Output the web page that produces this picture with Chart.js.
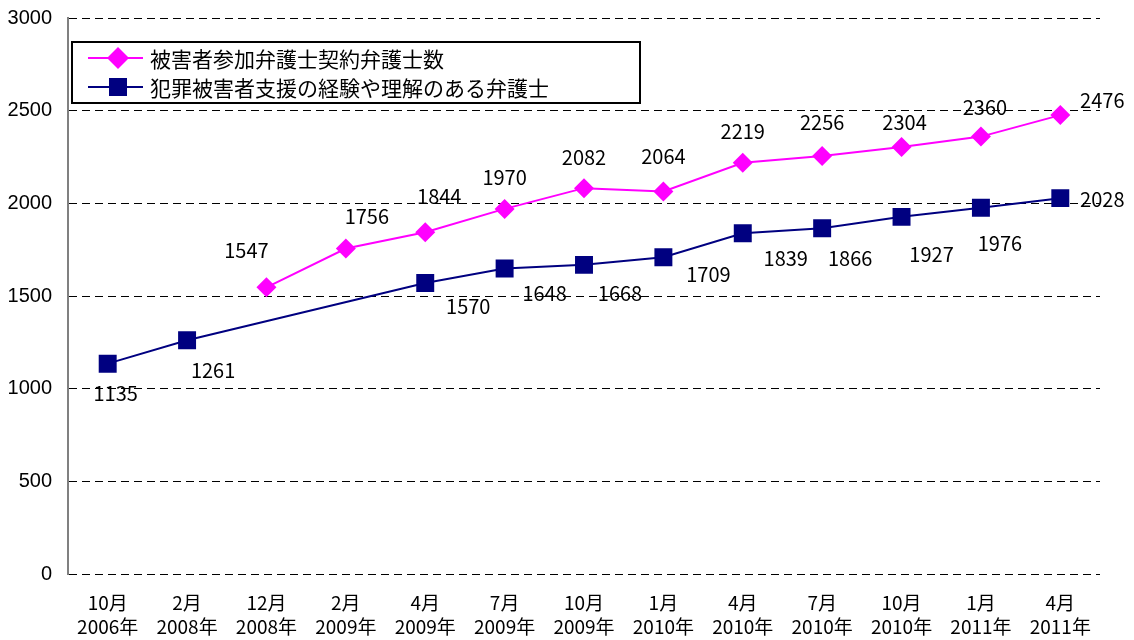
<!DOCTYPE html>
<html>
<head>
<meta charset="utf-8">
<script src="https://cdn.jsdelivr.net/npm/chart.js@4/dist/chart.umd.min.js"></script>
<style>
  html, body { margin: 0; padding: 0; background: #fff; }
  #wrap { width: 1134px; height: 640px; }
</style>
</head>
<body>
<div id="wrap"><canvas id="c" width="1134" height="640"></canvas></div>
<script>
// categories (month / year)
const months = ['10月', '2月', '12月', '2月', '4月', '7月', '10月', '1月', '4月', '7月', '10月', '1月', '4月'];
const years = ['2006年', '2008年', '2008年', '2009年', '2009年', '2009年', '2009年', '2010年', '2010年', '2010年', '2010年', '2011年', '2011年'];

// series
const contractLawyers = [null, null, 1547, 1756, 1844, 1970, 2082, 2064, 2219, 2256, 2304, 2360, 2476];
const experiencedLawyers = [1135, 1261, null, null, 1570, 1648, 1668, 1709, 1839, 1866, 1927, 1976, 2028];

const seriesNames = ['被害者参加弁護士契約弁護士数', '犯罪被害者支援の経験や理解のある弁護士'];
const yTicks = [0, 500, 1000, 1500, 2000, 2500, 3000];

// label nudges (pixels), hand-placed like the original
const magentaNudge = [null, null, [-20, -37], [21, -32], [14, -36], [0, -31], [0, -31], [0, -35], [0, -31], [0, -33], [3, -25], [4, -29], [42, -15]];
const navyNudge = [[8, 30], [26, 30], null, null, [43, 23], [40, 25], [36, 29], [45, 17], [43, 25], [28, 30], [30, 38], [19, 36], [42, 1]];

const MAGENTA = '#ff00ff';
const NAVY = '#000080';
const JP = '"Noto Sans CJK JP", "Noto Sans", sans-serif';

const labelPlugin = {
  id: 'pointLabels',
  afterDatasetsDraw(chart) {
    const ctx = chart.ctx;
    ctx.save();
    ctx.font = '20px ' + JP;
    ctx.fillStyle = '#000';
    ctx.textAlign = 'center';
    ctx.textBaseline = 'middle';
    const nudges = [magentaNudge, navyNudge];
    chart.data.datasets.forEach((ds, di) => {
      const meta = chart.getDatasetMeta(di);
      meta.data.forEach((pt, i) => {
        const v = ds.data[i];
        if (v == null) return;
        const n = nudges[di][i] || [0, 0];
        ctx.fillText(String(v), pt.x + n[0], pt.y + n[1]);
      });
    });
    ctx.restore();
  }
};

const legendPlugin = {
  id: 'boxLegend',
  afterDraw(chart) {
    const ctx = chart.ctx;
    const a = chart.chartArea;
    const x0 = a.left + 4, y0 = a.top + 24, w = 568, h = 61;
    ctx.save();
    ctx.fillStyle = '#fff';
    ctx.fillRect(x0, y0, w, h);
    ctx.strokeStyle = '#000';
    ctx.lineWidth = 2;
    ctx.strokeRect(x0, y0, w, h);
    const rows = [
      { color: MAGENTA, shape: 'diamond', y: y0 + 16 },
      { color: NAVY, shape: 'square', y: y0 + 45 }
    ];
    rows.forEach((r, i) => {
      ctx.strokeStyle = r.color;
      ctx.lineWidth = 2;
      ctx.beginPath();
      ctx.moveTo(x0 + 16, r.y);
      ctx.lineTo(x0 + 71, r.y);
      ctx.stroke();
      ctx.fillStyle = r.color;
      const cx = x0 + 46;
      ctx.beginPath();
      if (r.shape === 'diamond') {
        ctx.moveTo(cx, r.y - 11);
        ctx.lineTo(cx + 11, r.y);
        ctx.lineTo(cx, r.y + 11);
        ctx.lineTo(cx - 11, r.y);
        ctx.closePath();
      } else {
        ctx.rect(cx - 9, r.y - 9, 18, 18);
      }
      ctx.fill();
      ctx.fillStyle = '#000';
      ctx.font = '21px ' + JP;
      ctx.textAlign = 'left';
      ctx.textBaseline = 'middle';
      ctx.fillText(seriesNames[i], x0 + 78, r.y + 1);
    });
    ctx.restore();
  }
};

new Chart(document.getElementById('c'), {
  type: 'line',
  data: {
    labels: months.map((m, i) => [m, years[i]]),
    datasets: [
      {
        label: seriesNames[0],
        data: contractLawyers,
        borderColor: MAGENTA,
        backgroundColor: MAGENTA,
        borderWidth: 2,
        pointStyle: 'rectRot',
        pointRadius: 10,
        pointHoverRadius: 10,
        pointBorderWidth: 0,
        tension: 0
      },
      {
        label: seriesNames[1],
        data: experiencedLawyers,
        borderColor: NAVY,
        backgroundColor: NAVY,
        borderWidth: 2,
        pointStyle: 'rect',
        pointRadius: 12.7,
        pointHoverRadius: 12.7,
        pointBorderWidth: 0,
        spanGaps: true,
        tension: 0
      }
    ]
  },
  options: {
    responsive: false,
    animation: false,
    layout: { padding: { top: 18, right: 34, left: 0, bottom: 0 } },
    plugins: {
      legend: { display: false },
      tooltip: { enabled: false }
    },
    scales: {
      x: {
        offset: true,
        afterFit(axis) { axis.height = 66; axis.paddingLeft = 0; axis.paddingRight = 0; },
        grid: { display: false, drawTicks: false },
        border: { display: false },
        ticks: {
          color: '#000',
          font: { family: JP, size: 19, lineHeight: 1.25 },
          maxRotation: 0,
          autoSkip: false,
          padding: 17
        }
      },
      y: {
        min: 0,
        max: 3000,
        afterBuildTicks(axis) { axis.ticks = yTicks.map(v => ({ value: v })); },
        afterFit(axis) { axis.width = 68; axis.paddingTop = 0; axis.paddingBottom = 0; },
        grid: {
          color: '#000',
          lineWidth: 1,
          tickLength: 0,
          drawTicks: false
        },
        border: { display: true, color: '#808080', width: 2, dash: [8, 5] },
        ticks: {
          color: '#000',
          font: { family: '"Liberation Sans", Arial, sans-serif', size: 20 },
          padding: 16,
          callback: v => String(v)
        }
      }
    }
  },
  plugins: [labelPlugin, legendPlugin]
});
</script>
</body>
</html>
